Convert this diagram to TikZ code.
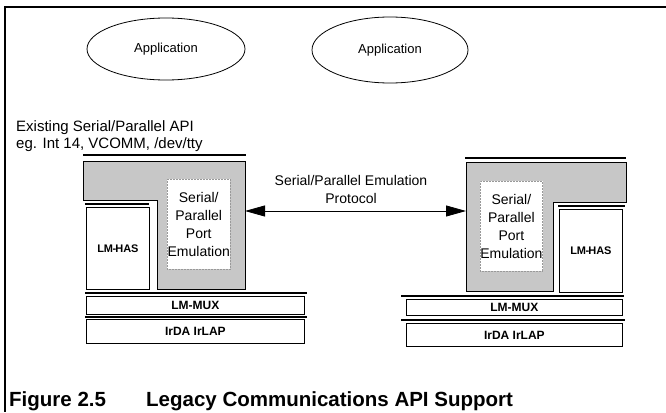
\documentclass[tikz,border=0pt]{standalone}
\usepackage{fontspec}
\setmainfont{Liberation Sans}
\usetikzlibrary{arrows.meta,shapes.geometric}

\begin{document}
\begin{tikzpicture}[x=1pt,y=-1pt,
  box/.style={draw, line width=0.8pt, fill=white, inner sep=0pt, anchor=north west,
              font=\fontsize{12}{14}\selectfont\bfseries},
  bar/.style={line width=2pt},
  shade/.style={fill=black!22, draw, line width=0.8pt},
  port/.style={fill=white, draw=black!40, densely dotted, line width=0.5pt, inner sep=0pt,
               anchor=north west, align=center, font=\fontsize{14}{18}\selectfont},
  app/.style={ellipse, draw, line width=0.8pt, inner sep=0pt,
              font=\fontsize{13}{16}\selectfont},
  txt/.style={inner sep=0pt, font=\fontsize{15}{17}\selectfont},
  proto/.style={line width=0.8pt, {Triangle[length=20pt,width=11pt]}-{Triangle[length=20pt,width=11pt]}}]

\useasboundingbox (0,0) rectangle (666,412);

% frame: top rule and left rule
\draw[line width=1.2pt] (666,7) -- (5,7) -- (5,412);

% applications
\node[app, minimum width=158pt, minimum height=62pt] (app1) at (166,49) {Application};
\node[app, minimum width=156pt, minimum height=66pt] (app2) at (390,50) {Application};

% API note (base anchor sits on the last line)
\node[txt, anchor=base west, align=left] (api) at (16,148)
  {Existing Serial/Parallel API\\eg. Int 14, VCOMM, /dev/tty};

% ---------- left stack ----------
\draw[bar, line width=1.6pt] (83,155) -- (246,155);
\path[shade] (83,161) -- (245,161) -- (245,289) -- (157,289) -- (157,200) -- (83,200) -- cycle;
\node[port, minimum width=63pt, minimum height=90pt] (lport) at (167,179)
  {Serial/\\Parallel\\Port\\Emulation};
\draw[bar, line width=1.6pt] (85,204) -- (149,204);
\node[box, minimum width=63pt, minimum height=82pt, font=\fontsize{11}{13}\selectfont\bfseries]
  (lhas) at (86,207) {LM\kern-0.5pt-\kern-1pt HAS};
\draw[bar] (85,293) -- (307,293);
\node[box, minimum width=218pt, minimum height=18pt] (lmux) at (86,296) {LM-MUX};
\draw[bar] (85,317) -- (307,317);
\node[box, minimum width=218pt, minimum height=24pt] (llap) at (86,319) {IrDA IrLAP};

% ---------- right stack ----------
\draw[bar, line width=1.6pt] (465,158) -- (626,158);
\path[shade] (466,162) -- (626,162) -- (626,202) -- (553,202) -- (553,291) -- (466,291) -- cycle;
\node[port, minimum width=62pt, minimum height=90pt] (rport) at (480,181)
  {Serial/\\Parallel\\Port\\Emulation};
\draw[bar, line width=1.6pt] (558,206) -- (625,206);
\node[box, minimum width=63pt, minimum height=83pt, font=\fontsize{11}{13}\selectfont\bfseries]
  (rhas) at (559,209) {LM\kern-0.5pt-\kern-1pt HAS};
\draw[bar] (401,296) -- (624,296);
\node[box, minimum width=216pt, minimum height=16pt] (rmux) at (406,299) {LM-MUX};
\draw[bar] (401,320) -- (625,320);
\node[box, minimum width=216pt, minimum height=23pt] (rlap) at (406,323) {IrDA IrLAP};

% emulation protocol between the two stacks
\coordinate (lend) at (245,211);
\coordinate (rend) at (466,211);
\draw[proto] (lend) -- (rend);
\node[txt, align=center, font=\fontsize{14}{18}\selectfont] (plabel) at (351,189)
  {Serial/Parallel Emulation\\Protocol};

% caption
\node[inner sep=0pt, anchor=base west, font=\fontsize{20.5}{24}\selectfont\bfseries]
  (capnum) at (9,406) {Figure 2.5};
\node[inner sep=0pt, anchor=base west, font=\fontsize{20.5}{24}\selectfont\bfseries]
  (captitle) at (146,406) {Legacy Communications API Support};

\end{tikzpicture}
\end{document}
